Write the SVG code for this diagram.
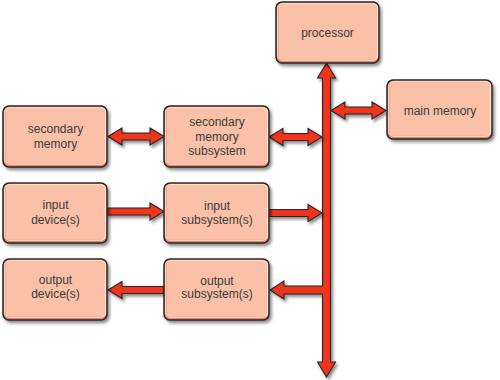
<svg xmlns="http://www.w3.org/2000/svg" width="500" height="380" viewBox="0 0 500 380">
<defs>
<filter id="sh" x="-20%" y="-20%" width="150%" height="150%">
<feDropShadow dx="2" dy="2.5" stdDeviation="1.5" flood-color="#000" flood-opacity="0.45"/>
</filter>
<style>
.box{fill:#ee8263;stroke:#262626;stroke-width:1.5;filter:url(#sh)}
.inner{fill:#fbc1a8;stroke:none}
.hl{fill:none;stroke:#ffffff;stroke-width:0.8;opacity:0.9}
.t{font-family:"Liberation Sans",Arial,sans-serif;font-size:12px;fill:#3a3a3a;text-anchor:middle}
.arr{fill:#f0341f;stroke:#262626;stroke-width:1.1;stroke-linejoin:miter;filter:url(#sh)}
</style>
</defs>
<rect width="500" height="380" fill="#ffffff"/>

<g id="connectors">
<!-- bus with output branch -->
<polygon class="arr" points="326.5,63 335.5,78 330.5,78 330.5,362 335.5,362 326.5,377 317.5,362 322.5,362 322.5,294 284,294 284,299 270,290 284,281 284,286 322.5,286 322.5,78 317.5,78"/>
<!-- secondary memory <-> secondary memory subsystem -->
<polygon class="arr" points="108,136.5 122,128 122,133 150,133 150,128 164,136.5 150,145 150,140 122,140 122,145"/>
<!-- secondary memory subsystem <-> bus -->
<polygon class="arr" points="269,137 283,128.5 283,133.5 308,133.5 308,128.5 322,137 308,145.5 308,140.5 283,140.5 283,145.5"/>
<!-- bus <-> main memory -->
<polygon class="arr" points="331,110.5 345,102 345,107 372,107 372,102 386,110.5 372,119 372,114 345,114 345,119"/>
<!-- input device -> input subsystem -->
<polygon class="arr" points="107,208 150,208 150,203 164,211.5 150,220 150,215 107,215"/>
<!-- input subsystem -> bus -->
<polygon class="arr" points="269,209.5 308,209.5 308,204.5 322,213 308,221.5 308,216.5 269,216.5"/>
<!-- output subsystem -> output device -->
<polygon class="arr" points="164,286.5 122,286.5 122,281.5 108,290 122,298.5 122,293.5 164,293.5"/>
</g>

<g id="processor">
<rect class="box" x="276" y="2" width="103" height="61" rx="6"/>
<rect class="inner" x="278.5" y="3.8" width="99.5" height="56" rx="4"/>
<rect class="hl" x="277.6" y="3.4" width="100" height="57" rx="5"/>
<text class="t" x="327.5" y="37">processor</text>
</g>

<g id="main-memory">
<rect class="box" x="387" y="80" width="105" height="59" rx="6"/>
<rect class="inner" x="389.5" y="81.8" width="101.5" height="54" rx="4"/>
<rect class="hl" x="388.6" y="81.4" width="102" height="55" rx="5"/>
<text class="t" x="440" y="114.5">main memory</text>
</g>

<g id="secondary-memory">
<rect class="box" x="3" y="106" width="104" height="61" rx="6"/>
<rect class="inner" x="5.5" y="107.8" width="100.5" height="56" rx="4"/>
<rect class="hl" x="4.6" y="107.4" width="101" height="57" rx="5"/>
<text class="t" x="55.5" y="133">secondary</text>
<text class="t" x="55.5" y="147.5">memory</text>
</g>

<g id="secondary-memory-subsystem">
<rect class="box" x="164" y="106" width="105" height="61" rx="6"/>
<rect class="inner" x="166.5" y="107.8" width="101.5" height="56" rx="4"/>
<rect class="hl" x="165.6" y="107.4" width="102" height="57" rx="5"/>
<text class="t" x="217" y="126">secondary</text>
<text class="t" x="217" y="140.5">memory</text>
<text class="t" x="217" y="155">subsystem</text>
</g>

<g id="input-devices">
<rect class="box" x="3" y="183" width="104" height="60" rx="6"/>
<rect class="inner" x="5.5" y="184.8" width="100.5" height="55" rx="4"/>
<rect class="hl" x="4.6" y="184.4" width="101" height="56" rx="5"/>
<text class="t" x="55.5" y="209">input</text>
<text class="t" x="55.5" y="223.5">device(s)</text>
</g>

<g id="input-subsystems">
<rect class="box" x="164" y="183" width="105" height="60" rx="6"/>
<rect class="inner" x="166.5" y="184.8" width="101.5" height="55" rx="4"/>
<rect class="hl" x="165.6" y="184.4" width="102" height="56" rx="5"/>
<text class="t" x="217" y="209.5">input</text>
<text class="t" x="217" y="223.5">subsystem(s)</text>
</g>

<g id="output-devices">
<rect class="box" x="3" y="259" width="104" height="61" rx="6"/>
<rect class="inner" x="5.5" y="260.8" width="100.5" height="56" rx="4"/>
<rect class="hl" x="4.6" y="260.4" width="101" height="57" rx="5"/>
<text class="t" x="55.5" y="284">output</text>
<text class="t" x="55.5" y="297.5">device(s)</text>
</g>

<g id="output-subsystems">
<rect class="box" x="164" y="259" width="105" height="61" rx="6"/>
<rect class="inner" x="166.5" y="260.8" width="101.5" height="56" rx="4"/>
<rect class="hl" x="165.6" y="260.4" width="102" height="57" rx="5"/>
<text class="t" x="217" y="284.5">output</text>
<text class="t" x="217" y="298">subsystem(s)</text>
</g>
</svg>
